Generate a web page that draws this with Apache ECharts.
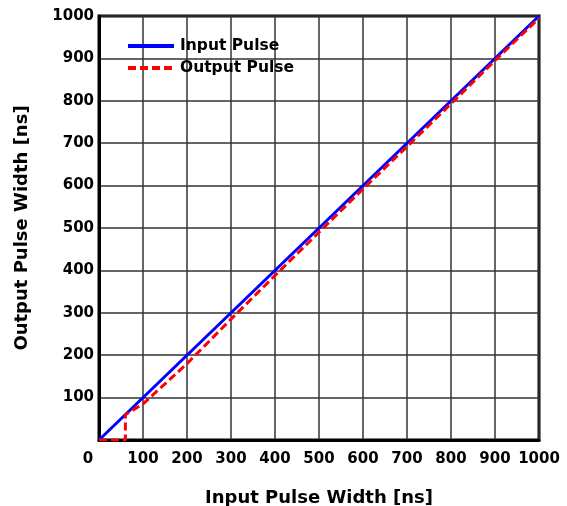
<!DOCTYPE html>
<html>
<head>
<meta charset="utf-8">
<script src="https://cdn.jsdelivr.net/npm/echarts@6/dist/echarts.min.js"></script>
<style>html,body{margin:0;padding:0;background:#fff;}#c{width:567px;height:506px;}</style>
</head>
<body>
<div id="c"></div>
<script>
var inputPulse = [[0,0],[1000,1000]];
var outputPulse = [[0,0],[60,0],[60,60],[100,85],[200,180],[300,285],[400,388],[500,490],[600,592],[700,692],[800,793],[900,895],[1000,995]];
var seriesNames = ['Input Pulse','Output Pulse'];
var xTitle = 'Input Pulse Width [ns]';
var yTitle = 'Output Pulse Width [ns]';

var chart = echarts.init(document.getElementById('c'));
var font = 'DejaVu Sans, sans-serif';
chart.setOption({
  animation: false,
  backgroundColor: '#fff',
  grid: {left: 99, right: 28, top: 16, bottom: 66, show: true, borderColor: '#000', borderWidth: 3,
         containLabel: false, outerBoundsMode: 'none'},
  legend: {
    left: 121, top: 33, orient: 'vertical', itemWidth: 46, itemHeight: 14, itemGap: 6,
    itemStyle: {opacity: 0},
    lineStyle: {width: 4},
    textStyle: {fontFamily: font, fontWeight: 'bold', fontSize: 15.5, color: '#000', padding: [0,0,0,1]},
    data: seriesNames
  },
  xAxis: {
    type: 'value', min: 0, max: 1000, interval: 100,
    name: xTitle, nameLocation: 'middle', nameGap: 49,
    nameTextStyle: {fontFamily: font, fontWeight: 'bold', fontSize: 18, color: '#000'},
    axisLine: {show: true, lineStyle: {color: '#000', width: 3}},
    axisTick: {show: false},
    axisLabel: {
      fontFamily: font, fontWeight: 'bold', fontSize: 15, color: '#000', margin: 12,
      formatter: function(v){ return v === 0 ? '{z|0}' : String(v); },
      rich: {z: {fontFamily: font, fontWeight: 'bold', fontSize: 15, color: '#000', padding: [0, 22, 12, 0]}}
    },
    splitLine: {show: true, lineStyle: {color: '#333', width: 1.5}}
  },
  yAxis: {
    type: 'value', min: 0, max: 1000, interval: 100,
    name: yTitle, nameLocation: 'middle', nameGap: 68, nameRotate: 90,
    nameTextStyle: {fontFamily: font, fontWeight: 'bold', fontSize: 18, color: '#000'},
    axisLine: {show: true, lineStyle: {color: '#000', width: 3}},
    axisTick: {show: false},
    axisLabel: {fontFamily: font, fontWeight: 'bold', fontSize: 15, color: '#000', margin: 5, showMinLabel: false,
      formatter: function(v){ return String(v); }},
    splitLine: {show: true, lineStyle: {color: '#333', width: 1.5}}
  },
  series: [
    {name: seriesNames[0], type: 'line', data: inputPulse, symbol: 'none', z: 3,
     lineStyle: {color: '#0000ff', width: 3}, itemStyle: {color: '#0000ff'}},
    {name: seriesNames[1], type: 'line', data: outputPulse, symbol: 'none', z: 4,
     lineStyle: {color: '#ff0000', width: 3, type: [8, 4]}, itemStyle: {color: '#ff0000'}}
  ]
});
</script>
</body>
</html>
